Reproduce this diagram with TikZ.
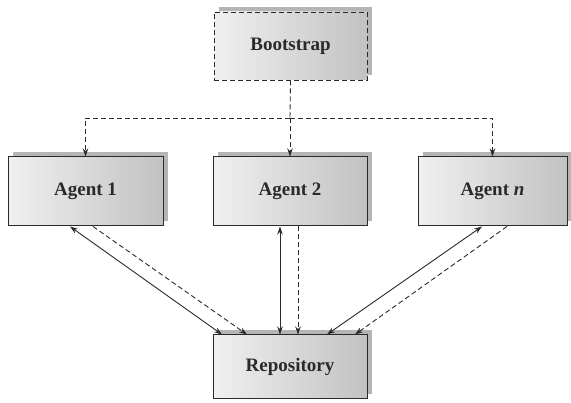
\documentclass[tikz,border=0pt]{standalone}
\usepackage{fontspec}
\setmainfont{Liberation Serif}
\usepackage{tikz}
\usetikzlibrary{positioning,arrows.meta,shadows}
\definecolor{BoxLight}{HTML}{F0F0F0}
\definecolor{BoxDark}{HTML}{C2C2C2}
\definecolor{BoxShade}{HTML}{A2A2A2}
\definecolor{LineGray}{HTML}{2A2A2A}

\begin{document}
\begin{tikzpicture}[x=1pt,y=-1pt,>={Stealth[length=8pt,width=5.5pt]},
    box/.style={draw=LineGray,line width=1pt,left color=BoxLight,right color=BoxDark,
      minimum height=68pt,inner sep=0pt,
      font=\bfseries\fontsize{19}{22}\selectfont,text=LineGray,
      drop shadow={shadow xshift=5pt,shadow yshift=5pt,fill=BoxShade,opacity=0.8}},
    solidline/.style={draw=LineGray,line width=0.9pt},
    dashline/.style={draw=LineGray,line width=0.9pt,dash pattern=on 5pt off 3pt}]
    \useasboundingbox (0,0) rectangle (571,403);
    \node[box,dashline,minimum width=153pt] (boot) at (290.5,46) {Bootstrap};
    \node[box,minimum width=155pt,minimum height=69pt] (ag1) at (85.5,191.5) {Agent 1};
    \node[box,minimum width=154pt,minimum height=69pt] (ag2) at (290,191.5) {Agent 2};
    \node[box,minimum width=149pt,minimum height=69pt] (agn) at (492.5,191.5) {Agent \textit{n}};
    \node[box,minimum width=154pt,minimum height=64pt] (repo) at (290,367) {Repository};
    \coordinate (split) at (290,118);
    % bootstrap to the agents
    \draw[dashline] (boot.south) -- (split);
    \draw[dashline,->] (split) -| (ag1.north);
    \draw[dashline,->] (split) -| (agn.north);
    \draw[dashline,->] (split) -- (ag2.north);
    % agents and repository
    \draw[solidline,<->] ([xshift=-15.5pt]ag1.south) -- ([xshift=-68pt]repo.north);
    \draw[dashline,->] ([xshift=7.5pt]ag1.south) -- ([xshift=-43pt]repo.north);
    \draw[solidline,<->] ([xshift=-10pt]ag2.south) -- ([xshift=-10pt]repo.north);
    \draw[dashline,->] ([xshift=8pt]ag2.south) -- ([xshift=8pt]repo.north);
    \draw[solidline,<->] ([xshift=-10.5pt]agn.south) -- ([xshift=37pt]repo.north);
    \draw[dashline,->] ([xshift=14.5pt]agn.south) -- ([xshift=65pt]repo.north);
\end{tikzpicture}
\end{document}
